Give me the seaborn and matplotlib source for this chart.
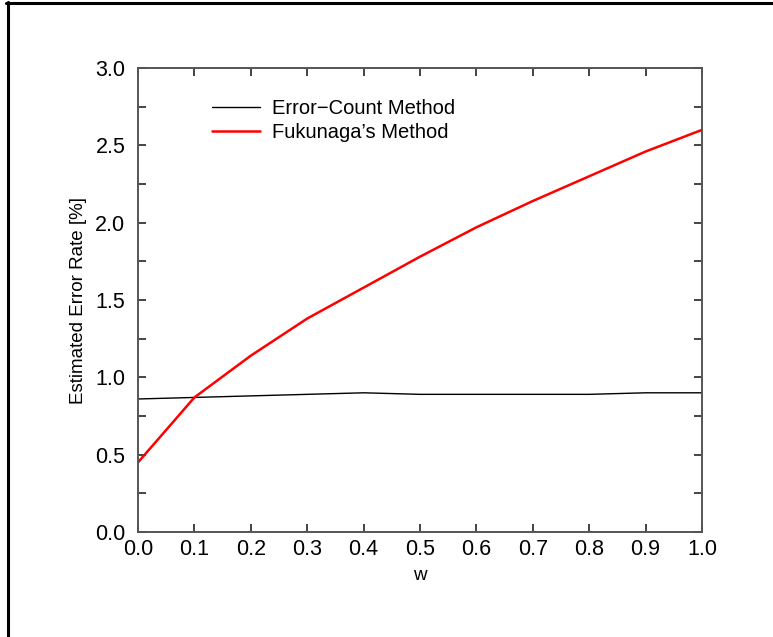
import matplotlib
matplotlib.use("Agg")
import matplotlib.pyplot as plt
import seaborn as sns
import pandas as pd
from matplotlib.ticker import MultipleLocator
from matplotlib.lines import Line2D

w = [0.0, 0.1, 0.2, 0.3, 0.4, 0.5, 0.6, 0.7, 0.8, 0.9, 1.0]
error_count = [0.86, 0.87, 0.88, 0.89, 0.90, 0.89, 0.89, 0.89, 0.89, 0.90, 0.90]
fukunaga = [0.45, 0.87, 1.14, 1.38, 1.58, 1.78, 1.97, 2.14, 2.30, 2.46, 2.60]
series_names = ["Error\u2212Count Method", "Fukunaga\u2019s Method"]

sns.set_style("white")
plt.rcParams['font.family'] = ['Liberation Sans', 'DejaVu Sans']
plt.rcParams.update({"xtick.bottom": True, "xtick.top": True,
                     "ytick.left": True, "ytick.right": True,
                     "text.color": "black", "axes.labelcolor": "black",
                     "xtick.color": "black", "ytick.color": "black"})

df = pd.DataFrame({
    "w": w * 2,
    "rate": error_count + fukunaga,
    "method": [series_names[0]] * len(w) + [series_names[1]] * len(w),
})

fig = plt.figure(figsize=(7.73, 6.37), dpi=100)
ax = fig.add_axes([138 / 773, 1 - 532 / 637, 564 / 773, 464 / 637])

sns.lineplot(data=df, x="w", y="rate", hue="method", palette=["black", "red"],
             ax=ax, legend=False)
for line, lw in zip(ax.lines, [1.0, 1.8]):
    line.set_linewidth(lw)

ax.set_xlim(0, 1)
ax.set_ylim(0, 3)
ax.xaxis.set_major_locator(MultipleLocator(0.1))
ax.yaxis.set_major_locator(MultipleLocator(0.5))
ax.yaxis.set_minor_locator(MultipleLocator(0.25))
ax.set_xticklabels([f"{v:.1f}" for v in ax.get_xticks()])
ax.set_yticklabels([f"{v:.1f}" for v in ax.get_yticks()])
ax.tick_params(which="both", direction="in", top=True, right=True, left=True,
               bottom=True, length=6, width=1.1, color="#111111",
               labelcolor="black", labelsize=15.5)
ax.tick_params(axis="x", pad=5)
ax.tick_params(axis="y", pad=9)
for s in ax.spines.values():
    s.set_color("#555555")
    s.set_linewidth(1.4)

ax.set_xlabel("w", fontsize=13.5, labelpad=5, color="black")
ax.set_ylabel("Estimated Error Rate [%]", fontsize=13.5, labelpad=6, color="black")

handles = [Line2D([], [], color="black", lw=1.0), Line2D([], [], color="red", lw=1.8)]
leg = ax.legend(handles, series_names, loc="upper left",
                bbox_to_anchor=(74 / 564, 1 - 31 / 464),
                frameon=False, fontsize=14.5, handlelength=2.4, handletextpad=0.6,
                labelspacing=0.27, borderpad=0, borderaxespad=0)
for t in leg.get_texts():
    t.set_color("black")

# outer frame (left and top edges visible)
fig.add_artist(Line2D([7.7 / 773, 7.7 / 773], [0, 1 - 1.5 / 637], color="black",
                      lw=2.2, transform=fig.transFigure))
fig.add_artist(Line2D([6.2 / 773, 1], [1 - 2.8 / 637, 1 - 2.8 / 637], color="black",
                      lw=2.2, transform=fig.transFigure))

fig.savefig("out.png", dpi=100)
